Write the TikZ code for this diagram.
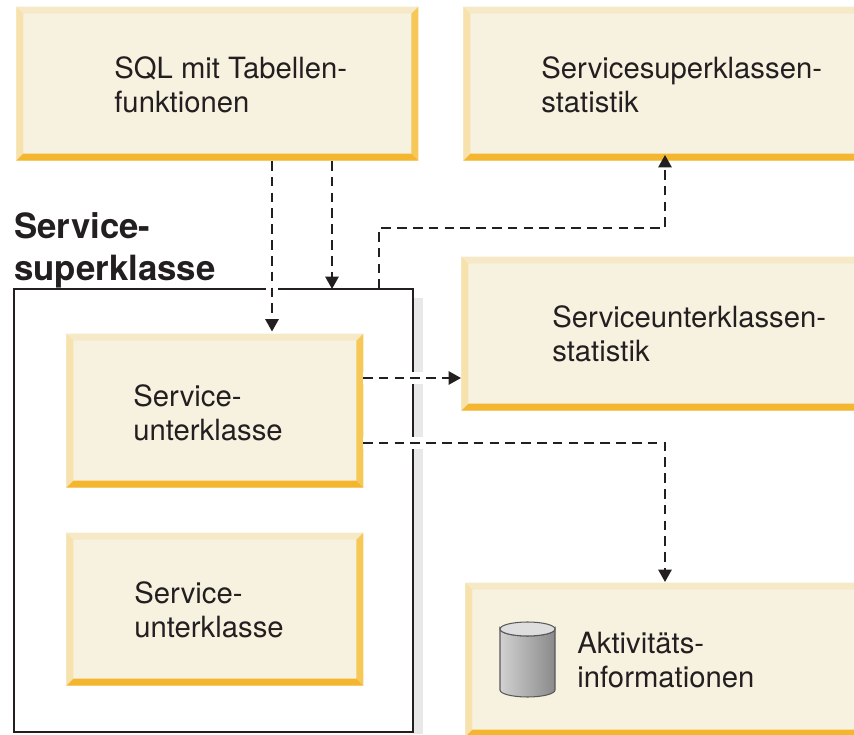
\documentclass[tikz,border=0pt]{standalone}
\usepackage{fontspec}
\setmainfont{TeX Gyre Heros}
\usetikzlibrary{arrows.meta,calc,positioning}

\definecolor{boxfill}{HTML}{F7F2E0}
\definecolor{bevelt}{HTML}{F6E9C8}
\definecolor{bevell}{HTML}{F7E2AE}
\definecolor{bevelr}{HTML}{F5C857}
\definecolor{bevelb}{HTML}{F4B62E}
\definecolor{textcol}{HTML}{231F20}

\tikzset{
  klasse/.style={anchor=south west, inner sep=0pt, minimum width=#1, minimum height=3.08cm,
    fill=boxfill, path picture={
      \coordinate (sw) at (path picture bounding box.south west);
      \coordinate (ne) at (path picture bounding box.north east);
      \coordinate (nw) at (sw |- ne);
      \coordinate (se) at (sw -| ne);
      \fill[bevelt] (nw) -- (ne) -- ($(ne)+(-.14,-.14)$) -- ($(nw)+(.14,-.14)$) -- cycle;
      \fill[bevell] (nw) -- (sw) -- ($(sw)+(.14,.14)$) -- ($(nw)+(.14,-.14)$) -- cycle;
      \fill[bevelr] (ne) -- (se) -- ($(se)+(-.14,.14)$) -- ($(ne)+(-.14,-.14)$) -- cycle;
      \fill[bevelb] (sw) -- (se) -- ($(se)+(-.14,.14)$) -- ($(sw)+(.14,.14)$) -- cycle;
    }},
  beschr/.style={anchor=west, inner sep=0pt, align=left, text=textcol, yshift=-.02cm,
    font=\fontsize{16.65}{19.3}\selectfont},
  titel/.style={anchor=south west, inner sep=0pt, align=left, text=textcol,
    font=\fontsize{19.8}{23.6}\selectfont\bfseries},
  flow/.style={line width=1.15pt, draw=textcol, dash pattern=on 5.5pt off 3.5pt,
    -{Triangle[length=7pt,width=7.5pt]}},
  halo/.style={preaction={draw=white, solid, line width=6.8pt, -}}
}

\begin{document}
\begin{tikzpicture}
  \clip[use as bounding box] (0,0) rectangle (17.08,14.68);

  % frame with its shadow
  \fill[black!9] (8.26,0) rectangle (8.46,8.72);
  \node[draw=textcol, line width=1.1pt, anchor=south west, inner sep=0pt,
        minimum width=7.98cm, minimum height=8.86cm] (super) at (.26,.02) {};
  \node[titel, above right=0cm and .02cm of super.north west] (superlabel) {Service-\\superklasse};

  % boxes
  \node[klasse=8.04cm] (sql) at (.32,11.46) {};
  \node[klasse=8.74cm] (superstat) at (9.26,11.46) {};
  \node[klasse=8.78cm] (unterstat) at (9.22,6.46) {};
  \node[klasse=8.70cm] (aktiv) at (9.30,-.06) {};
  \node[klasse=5.94cm] (unterA) at (1.32,4.92) {};
  \node[klasse=5.94cm, minimum height=3.06cm] (unterB) at (1.32,.96) {};

  \node[beschr, right=1.96cm of sql.west] {SQL mit Tabellen-\\funktionen};
  \node[beschr, right=1.56cm of superstat.west] {Servicesuperklassen-\\statistik};
  \node[beschr, right=1.82cm of unterstat.west, yshift=.02cm] {Serviceunterklassen-\\statistik};
  \node[beschr, right=2.24cm of aktiv.west, yshift=.02cm] {Aktivitäts-\\informationen};
  \node[beschr, right=1.34cm of unterA.west, yshift=-.02cm] {Service-\\unterklasse};
  \node[beschr, right=1.36cm of unterB.west] {Service-\\unterklasse};

  % cylinder icon
  \draw[draw=black!65, line width=.6pt, left color=black!18, right color=black!46]
    (10,2.10) -- (10,.88) arc (180:360:.55 and .14) -- (11.1,2.10) arc (0:-180:.55 and .14) -- cycle;
  \draw[draw=black!65, line width=.6pt, fill=black!13] (10.55,2.10) ellipse (.55 and .14);

  % connectors
  \coordinate (inA) at (5.44,8.05);
  \coordinate (inSuper) at (6.64,8.90);
  \coordinate (outSuper) at (7.58,8.90);
  \coordinate (inStat) at (13.3,11.58);
  \coordinate (outA) at (7.26,7.12);
  \coordinate (outB) at (7.26,5.82);
  \coordinate (inAktiv) at (13.3,3.04);

  \draw[flow, halo] (sql.south -| inA) -- (inA);
  \draw[flow] (sql.south -| inSuper) -- (inSuper);
  \draw[flow] (outSuper) -- ++(0,1.22) -| (inStat);
  \draw[flow, halo] (outA) -- (unterstat.west |- outA);
  \draw[flow, halo] (outB) -| (inAktiv);
\end{tikzpicture}
\end{document}
